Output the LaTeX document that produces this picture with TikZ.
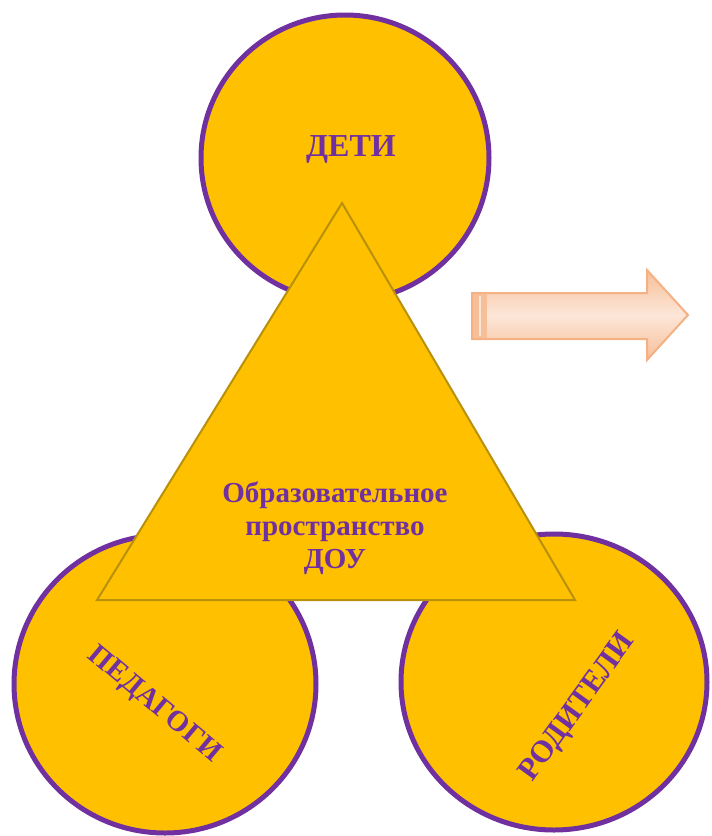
\documentclass[tikz,border=0pt]{standalone}
\usepackage{fontspec}
\setmainfont{Liberation Serif}
\begin{document}
\begin{tikzpicture}[x=1pt,y=-1pt,
  ring/.style={draw=ringpurple,line width=5pt,fill=gold},
  lbl/.style={text=ringpurple,font=\fontsize{29}{33}\selectfont\bfseries,align=center,inner sep=0pt}]
\definecolor{ringpurple}{HTML}{7030A0}
\definecolor{gold}{HTML}{FFC000}
\definecolor{tribord}{HTML}{B8900A}
\definecolor{arrbord}{HTML}{F4B183}
\definecolor{arrdark}{HTML}{F7BF98}
\definecolor{arrlight}{HTML}{FCE6D8}
\definecolor{arrshadow}{HTML}{C4A287}
\useasboundingbox (0,0) rectangle (712,836);
% circles
\draw[ring] (345,158) ellipse [x radius=144, y radius=143];
\draw[ring] (165,684) ellipse [x radius=151, y radius=149];
\draw[ring] (554,682) ellipse [x radius=153, y radius=148];
% triangle
\coordinate (ta) at (342,203);
\coordinate (tl) at (97,600);
\coordinate (tr) at (575,600);
\draw[draw=tribord,line width=2pt,fill=gold,line join=miter] (ta) -- (tl) -- (tr) -- cycle;
% labels
\node[lbl,font=\fontsize{32}{36}\selectfont\bfseries] (deti) at (351,149) {ДЕТИ};
\node[lbl] (dou) at (335,528) {Образовательное\\пространство\\ДОУ};
\node[lbl,rotate=-40] (ped) at (154,705) {ПЕДАГОГИ};
\node[lbl,font=\fontsize{31}{35}\selectfont\bfseries,rotate=54] (rod) at (578,708) {РОДИТЕЛИ};
% arrow
\coordinate (a1) at (472,293);
\coordinate (a2) at (647,293);
\coordinate (a3) at (647,270);
\coordinate (a4) at (688,315);
\coordinate (a5) at (647,360);
\coordinate (a6) at (647,339);
\coordinate (a7) at (472,339);
\fill[arrshadow,shift={(3,4)}] (a1) -- (a2) -- (a3) -- (a4) -- (a5) -- (a6) -- (a7) -- cycle;
\shade[top color=arrdark,bottom color=arrdark,middle color=arrlight,draw=arrbord,line width=2pt]
  (a1) -- (a2) -- (a3) -- (a4) -- (a5) -- (a6) -- (a7) -- cycle;
\fill[arrdark] (473,294) rectangle (487,338);
\draw[arrlight,line width=1.5pt] (480,296) -- (480,336);
\end{tikzpicture}
\end{document}
